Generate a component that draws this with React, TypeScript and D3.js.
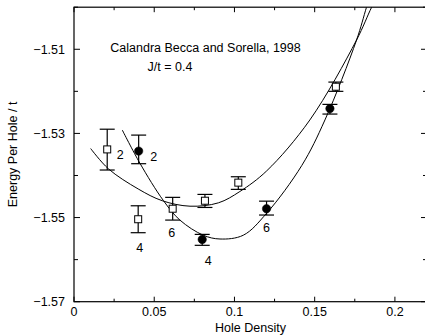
import React from "react";
import * as d3 from "d3";

// open squares with error bars
const sqX = [0.0207, 0.0400, 0.0615, 0.0816, 0.1024, 0.1632];
const sqY = [-1.5338, -1.5504, -1.5479, -1.5460, -1.5417, -1.5189];
const sqLo = [-1.5387, -1.5536, -1.5506, -1.5476, -1.5433, -1.5200];
const sqHi = [-1.5290, -1.5472, -1.5452, -1.5445, -1.5403, -1.5178];

// filled circles with error bars
const ciX = [0.0403, 0.0799, 0.1200, 0.1595];
const ciY = [-1.5342, -1.5552, -1.5479, -1.5241];
const ciLo = [-1.5372, -1.5566, -1.5494, -1.5254];
const ciHi = [-1.5304, -1.5540, -1.5461, -1.5231];

// fitted curves
const fitSqX = [0.0104, 0.0214, 0.040, 0.055, 0.0723, 0.09, 0.1034, 0.1201, 0.147, 0.1761, 0.1855, 0.19];
const fitSqY = [-1.5336, -1.5384, -1.5432, -1.5460, -1.5473, -1.5465, -1.5438, -1.5389, -1.5268, -1.5078, -1.5, -1.4968];
const fitCiX = [0.0301, 0.0411, 0.0556, 0.066, 0.0806, 0.091, 0.1055, 0.12, 0.142, 0.1564, 0.1761, 0.1823, 0.186];
const fitCiY = [-1.5292, -1.5371, -1.5459, -1.5506, -1.5542, -1.5551, -1.5542, -1.549, -1.5376, -1.5268, -1.5078, -1.5, -1.4955];

// number annotations
const annText = ["2", "2", "4", "6", "4", "6"];
const annX = [0.0207, 0.0403, 0.0400, 0.0615, 0.0799, 0.1200];
const annY = [-1.5338, -1.5342, -1.5504, -1.5479, -1.5552, -1.5479];

const xMajor = [0, 0.05, 0.1, 0.15, 0.2];
const xMajorLabels = ["0", "0.05", "0.1", "0.15", "0.2"];
const xMinor = [0.025, 0.075, 0.125, 0.175];
const yMajor = [-1.51, -1.53, -1.55, -1.57];
const yMajorLabels = ["\u22121.51", "\u22121.53", "\u22121.55", "\u22121.57"];
const yMinor = [-1.50, -1.52, -1.54, -1.56];

const title1 = "Calandra Becca and Sorella, 1998";
const title2 = "J/t = 0.4";
const xTitle = "Hole Density";
const yTitle = "Energy Per Hole / t";

export default function App() {
  const W = 425, H = 335;
  const L = 74, R = 427, T = 7.2, B = 301.7;
  const x = d3.scaleLinear().domain([0, 0.22]).range([L, R]);
  const y = d3.scaleLinear().domain([-1.57, -1.50]).range([B, T]);
  const font = "'Liberation Sans', Arial, Helvetica, sans-serif";
  const fs = 12.5;
  const line = d3.line<[number, number]>().x(d => x(d[0])).y(d => y(d[1])).curve(d3.curveCatmullRom.alpha(0.5));
  const sqPts = fitSqX.map((v, i) => [v, fitSqY[i]] as [number, number]);
  const ciPts = fitCiX.map((v, i) => [v, fitCiY[i]] as [number, number]);
  const cap = 7.5;
  const ann = [
    { dx: 13, dy: 5 },
    { dx: 15, dy: 5 },
    { dx: 1.5, dy: 28 },
    { dx: -1, dy: 24 },
    { dx: 6, dy: 21 },
    { dx: 0, dy: 19 },
  ];
  const majLen = 5, minLen = 3;
  return (
    <svg width={W} height={H} style={{ position: "absolute", left: 0, top: 0, background: "#fff" }} fontFamily={font}>
      <rect x={0} y={0} width={W} height={H} fill="#fff" />
      <defs>
        <clipPath id="plotclip">
          <rect x={L} y={T} width={R - L} height={B - T} />
        </clipPath>
      </defs>
      {/* frame */}
      <rect x={L} y={T} width={R - L} height={B - T} fill="none" stroke="#000" strokeWidth={1.2} />
      {/* x ticks */}
      {xMajor.map((v, i) => (
        <g key={"xm" + i}>
          <line x1={x(v)} x2={x(v)} y1={B} y2={B - majLen} stroke="#000" strokeWidth={1} />
          <line x1={x(v)} x2={x(v)} y1={T} y2={T + majLen} stroke="#000" strokeWidth={1} />
          <text x={x(v)} y={B + 14.5} textAnchor="middle" fontSize={fs}>{xMajorLabels[i]}</text>
        </g>
      ))}
      {xMinor.map((v, i) => (
        <g key={"xn" + i}>
          <line x1={x(v)} x2={x(v)} y1={B} y2={B - minLen} stroke="#000" strokeWidth={1} />
          <line x1={x(v)} x2={x(v)} y1={T} y2={T + minLen} stroke="#000" strokeWidth={1} />
        </g>
      ))}
      {/* y ticks */}
      {yMajor.map((v, i) => (
        <g key={"ym" + i}>
          <line x1={L} x2={L + majLen + 1} y1={y(v)} y2={y(v)} stroke="#000" strokeWidth={1} />
          <line x1={R} x2={R - majLen - 1} y1={y(v)} y2={y(v)} stroke="#000" strokeWidth={1} />
          <text x={L - 9} y={y(v) + 4.5} textAnchor="end" fontSize={fs}>{yMajorLabels[i]}</text>
        </g>
      ))}
      {yMinor.map((v, i) => (
        <g key={"yn" + i}>
          <line x1={L} x2={L + minLen + 1} y1={y(v)} y2={y(v)} stroke="#000" strokeWidth={1} />
          <line x1={R} x2={R - minLen - 1} y1={y(v)} y2={y(v)} stroke="#000" strokeWidth={1} />
        </g>
      ))}
      {/* curves */}
      <g clipPath="url(#plotclip)">
        <path d={line(sqPts) || ""} fill="none" stroke="#000" strokeWidth={1} />
        <path d={line(ciPts) || ""} fill="none" stroke="#000" strokeWidth={1} />
      </g>
      {/* squares */}
      {sqX.map((v, i) => (
        <g key={"sq" + i} stroke="#000" strokeWidth={1.2}>
          <line x1={x(v)} x2={x(v)} y1={y(sqLo[i])} y2={y(sqHi[i])} />
          <line x1={x(v) - cap} x2={x(v) + cap} y1={y(sqLo[i])} y2={y(sqLo[i])} />
          <line x1={x(v) - cap} x2={x(v) + cap} y1={y(sqHi[i])} y2={y(sqHi[i])} />
          <rect x={x(v) - 3.5} y={y(sqY[i]) - 3.5} width={7} height={7} fill="#fff" strokeWidth={1} />
        </g>
      ))}
      {/* circles */}
      {ciX.map((v, i) => (
        <g key={"ci" + i} stroke="#000" strokeWidth={1.2}>
          <line x1={x(v)} x2={x(v)} y1={y(ciLo[i])} y2={y(ciHi[i])} />
          <line x1={x(v) - cap} x2={x(v) + cap} y1={y(ciLo[i])} y2={y(ciLo[i])} />
          <line x1={x(v) - cap} x2={x(v) + cap} y1={y(ciHi[i])} y2={y(ciHi[i])} />
          <circle cx={x(v)} cy={y(ciY[i])} r={4.2} fill="#000" strokeWidth={0.5} />
        </g>
      ))}
      {/* annotations */}
      {annText.map((t, i) => (
        <text key={"an" + i} x={x(annX[i]) + ann[i].dx} y={y(annY[i]) + ann[i].dy + 4.5} textAnchor="middle" fontSize={fs}>{t}</text>
      ))}
      <text x={205.5} y={51.5} textAnchor="middle" fontSize={fs}>{title1}</text>
      <text x={170} y={71} textAnchor="middle" fontSize={fs}>{title2}</text>
      <text x={(L + R) / 2} y={332} textAnchor="middle" fontSize={fs}>{xTitle}</text>
      <text transform={`translate(17,${(T + B) / 2}) rotate(-90)`} textAnchor="middle" fontSize={fs}>{yTitle}</text>
    </svg>
  );
}
